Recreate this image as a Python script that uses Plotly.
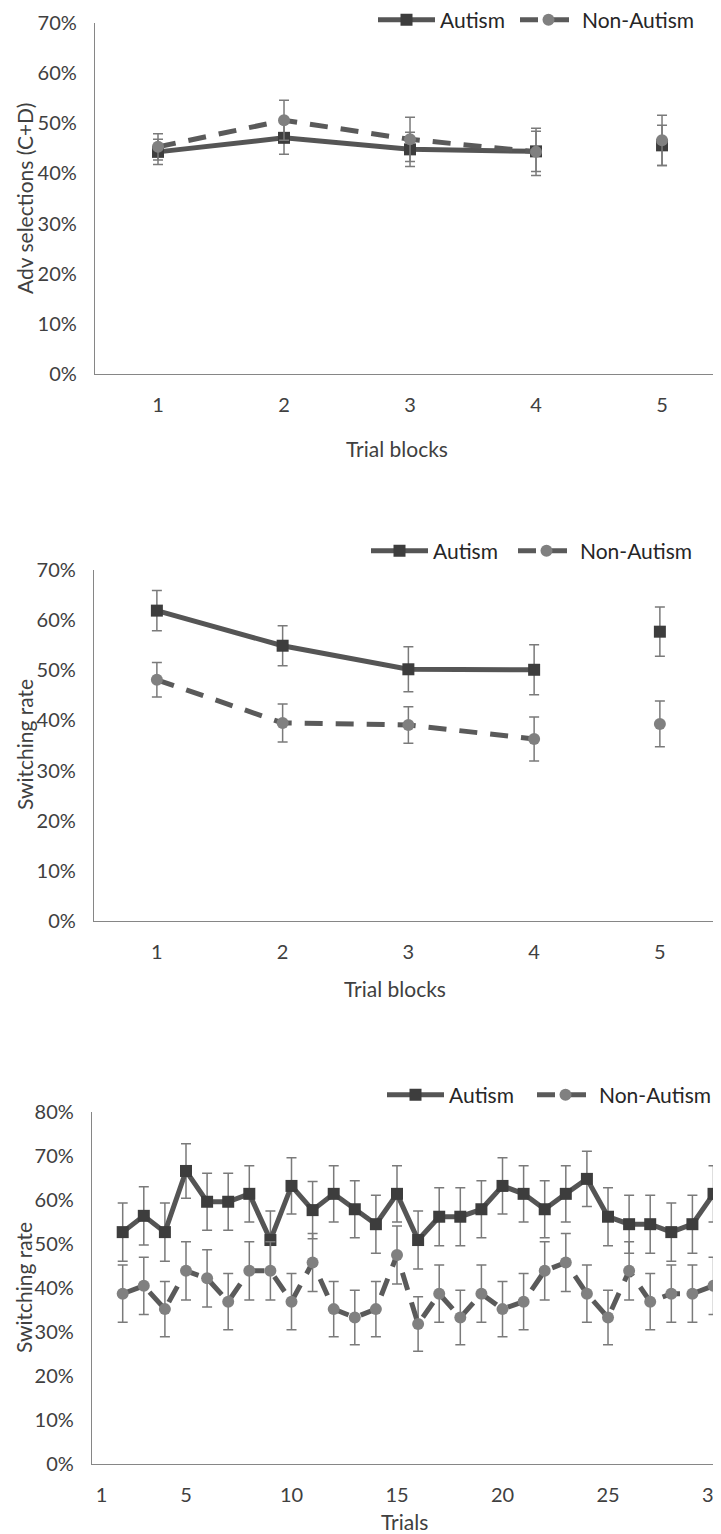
import plotly.graph_objects as go

# The page body has an 8px default margin, so the figure is 8px smaller
# and every reference pixel position is shifted by that offset.
OFF = 8
W, H = 721 - OFF, 1534 - OFF

# ---------------- data ----------------
blocks = [1, 2, 3, 4, 5]
adv_autism = [44.3, 47.1, 44.8, 44.4, 45.6]
adv_autism_err = [2.5, 3.3, 3.4, 4.0, 4.0]
adv_non = [45.3, 50.6, 46.8, 44.3, 46.6]
adv_non_err = [2.6, 4.0, 4.4, 4.7, 5.0]

sw_autism = [61.9, 54.9, 50.2, 50.1, 57.7]
sw_autism_err = [4.0, 4.0, 4.5, 5.0, 4.9]
sw_non = [48.1, 39.5, 39.1, 36.3, 39.3]
sw_non_err = [3.45, 3.8, 3.65, 4.4, 4.55]

trials = list(range(2, 31))
tr_autism = [52.7, 56.4, 52.7, 66.6, 59.6, 59.6, 61.4, 50.9, 63.2, 57.7,
             61.4, 57.9, 54.5, 61.4, 50.9, 56.2, 56.2, 57.9, 63.2, 61.4,
             57.9, 61.4, 64.8, 56.2, 54.5, 54.5, 52.7, 54.5, 61.4]
tr_autism_err = [6.6, 6.6, 6.6, 6.2, 6.5, 6.5, 6.4, 6.6, 6.4, 6.5,
                 6.4, 6.5, 6.6, 6.4, 6.6, 6.6, 6.6, 6.5, 6.4, 6.4,
                 6.5, 6.4, 6.3, 6.6, 6.6, 6.6, 6.6, 6.6, 6.4]
tr_non = [38.7, 40.5, 35.2, 43.9, 42.2, 36.9, 43.9, 43.9, 36.9, 45.8,
          35.2, 33.3, 35.2, 47.5, 31.8, 38.7, 33.3, 38.7, 35.2, 36.9,
          43.9, 45.8, 38.7, 33.3, 43.9, 36.9, 38.7, 38.7, 40.5]
tr_non_err = [6.5, 6.5, 6.3, 6.6, 6.5, 6.4, 6.6, 6.6, 6.4, 6.6,
              6.3, 6.2, 6.3, 6.6, 6.2, 6.5, 6.2, 6.5, 6.3, 6.4,
              6.6, 6.6, 6.5, 6.2, 6.6, 6.4, 6.5, 6.5, 6.5]

block_ticks = [1, 2, 3, 4, 5]
trial_ticks = [1, 5, 10, 15, 20, 25, 30]
pct_ticks_70 = [0, 10, 20, 30, 40, 50, 60, 70]
pct_ticks_80 = [0, 10, 20, 30, 40, 50, 60, 70, 80]

# ---------------- styles ----------------
FONT = "Lato"
TXT = "#404040"
AX = "#868686"
LINE_A = "#555555"
MARK_A = "#3d3d3d"
LINE_N = "#5a5a5a"
MARK_N = "#808080"
ERR = "#7a7a7a"


def py(px):
    return 1 - (px - OFF) / H


def px_x(px):
    return (px - OFF) / W


fig = go.Figure()

panels = [
    dict(x=blocks, a=adv_autism, ae=adv_autism_err, n=adv_non, ne=adv_non_err,
         xa="x", ya="y", leg="legend", split=True, lw=70),
    dict(x=blocks, a=sw_autism, ae=sw_autism_err, n=sw_non, ne=sw_non_err,
         xa="x2", ya="y2", leg="legend2", split=True, lw=75),
    dict(x=trials, a=tr_autism, ae=tr_autism_err, n=tr_non, ne=tr_non_err,
         xa="x3", ya="y3", leg="legend3", split=False, lw=78),
]


def gap(seq, split):
    # blocks 1-4 are connected, block 5 stands alone
    seq = list(seq)
    return seq[:4] + [None] + seq[4:] if split else seq


for p in panels:
    xs = gap(p["x"], p["split"])
    fig.add_trace(go.Scatter(
        x=xs, y=gap([v / 100 for v in p["a"]], p["split"]), name="Autism",
        mode="lines+markers", xaxis=p["xa"], yaxis=p["ya"], legend=p["leg"],
        legendwidth=p["lw"],
        line=dict(color=LINE_A, width=5),
        marker=dict(symbol="square", size=12, color=MARK_A),
        error_y=dict(type="data", array=gap([e / 100 for e in p["ae"]], p["split"]),
                     color=ERR, thickness=1.5, width=5),
    ))
    fig.add_trace(go.Scatter(
        x=xs, y=gap([v / 100 for v in p["n"]], p["split"]), name="Non-Autism",
        mode="lines+markers", xaxis=p["xa"], yaxis=p["ya"], legend=p["leg"],
        line=dict(color=LINE_N, width=5, dash="18px,13px"),
        marker=dict(symbol="circle", size=12, color=MARK_N),
        error_y=dict(type="data", array=gap([e / 100 for e in p["ne"]], p["split"]),
                     color=ERR, thickness=1.5, width=5),
    ))

axis_common = dict(showgrid=False, zeroline=False, showline=True,
                   linecolor=AX, linewidth=1.3, automargin=False,
                   tickfont=dict(family=FONT, size=20, color=TXT),
                   ticks="", ticklabeloverflow="allow")

fig.update_layout(
    template="none",
    width=W, height=H,
    margin=dict(l=0, r=0, t=0, b=0, pad=0, autoexpand=False),
    paper_bgcolor="white", plot_bgcolor="white",
    font=dict(family=FONT, color=TXT),
    showlegend=True,
    hovermode="closest",
    # panel 1
    xaxis=dict(axis_common, domain=[px_x(95), 1], range=[0.5, 5.468],
               tickvals=block_ticks, anchor="y", ticklabelstandoff=13),
    yaxis=dict(axis_common, domain=[py(374), py(23)], range=[0, 0.70],
               tickvals=[v / 100 for v in pct_ticks_70],
               ticktext=[f"{v}%" for v in pct_ticks_70],
               anchor="x", ticklabelstandoff=13),
    # panel 2
    xaxis2=dict(axis_common, domain=[px_x(94), 1], range=[0.5, 5.486],
                tickvals=block_ticks, anchor="y2", ticklabelstandoff=13),
    yaxis2=dict(axis_common, domain=[py(921), py(570)], range=[0, 0.70],
                tickvals=[v / 100 for v in pct_ticks_70],
                ticktext=[f"{v}%" for v in pct_ticks_70],
                anchor="x2", ticklabelstandoff=13),
    # panel 3
    xaxis3=dict(axis_common, domain=[px_x(92), 1], range=[0.545, 30.355],
                tickvals=trial_ticks, anchor="y3", ticklabelstandoff=13),
    yaxis3=dict(axis_common, domain=[py(1464), py(1112)], range=[0, 0.80],
                tickvals=[v / 100 for v in pct_ticks_80],
                ticktext=[f"{v}%" for v in pct_ticks_80],
                anchor="x3", ticklabelstandoff=13),
)

leg_common = dict(orientation="h", xanchor="left", yanchor="middle",
                  font=dict(family=FONT, size=21, color="#262626"),
                  bgcolor="rgba(0,0,0,0)", itemwidth=57,
                  traceorder="normal", borderwidth=0)
fig.update_layout(
    legend=dict(leg_common, x=px_x(373), y=py(20)),
    legend2=dict(leg_common, x=px_x(366), y=py(551)),
    legend3=dict(leg_common, x=px_x(382), y=py(1095)),
)

annots = [
    ("Adv selections (C+D)", 24, 199, -90),
    ("Trial blocks", 397, 449, 0),
    ("Switching rate", 24, 745, -90),
    ("Trial blocks", 395, 988, 0),
    ("Switching rate", 23, 1288, -90),
    ("Trials", 404, 1521, 0),
]
for text, x, y, ang in annots:
    fig.add_annotation(text=text, x=px_x(x), y=py(y), xref="paper", yref="paper",
                       xanchor="center", yanchor="middle", showarrow=False,
                       textangle=ang, font=dict(family=FONT, size=21, color=TXT))

fig.write_html("out.html")
